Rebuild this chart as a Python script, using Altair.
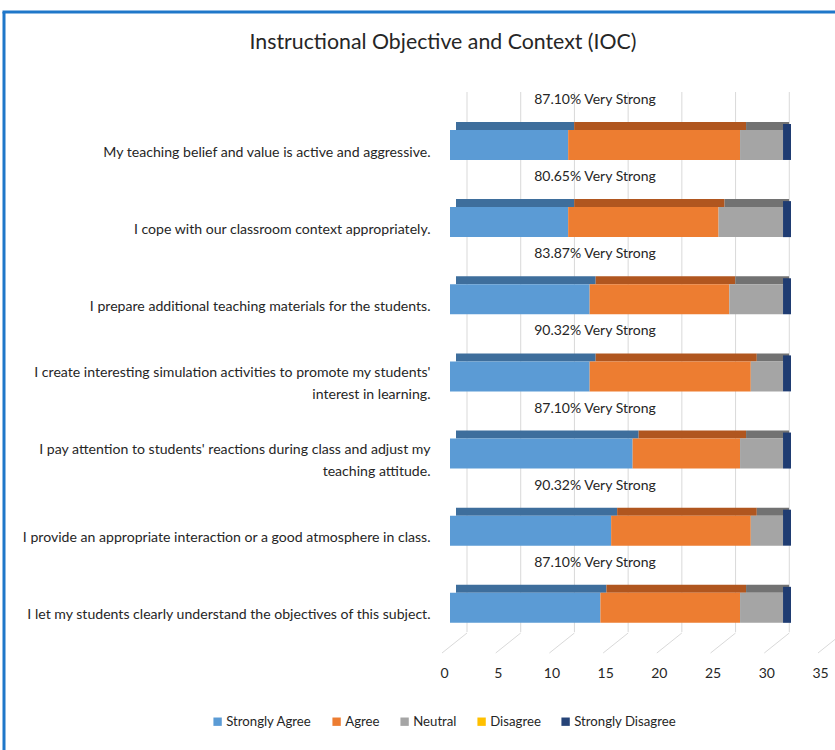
import altair as alt
import pandas as pd

# ---------------- data ----------------
categories = [
    "My teaching belief and value is active and aggressive.",
    "I cope with our classroom context appropriately.",
    "I prepare additional teaching materials for the students.",
    "I create interesting simulation activities to promote my students'\ninterest in learning.",
    "I pay attention to students' reactions during class and adjust my\nteaching attitude.",
    "I provide an appropriate interaction or a good atmosphere in class.",
    "I let my students clearly understand the objectives of this subject.",
]
strongly_agree = [11, 11, 13, 13, 17, 15, 14]
agree = [16, 14, 13, 15, 10, 13, 13]
neutral = [4, 6, 5, 3, 4, 3, 4]
disagree = [0, 0, 0, 0, 0, 0, 0]
strongly_disagree = [0, 0, 0, 0, 0, 0, 0]

series = ["Strongly Agree", "Agree", "Neutral", "Disagree", "Strongly Disagree"]
front_colors = ["#5B9BD5", "#ED7D31", "#A5A5A5", "#FFC000", "#264478"]
top_colors = ["#3E6E9C", "#B0561F", "#727272", "#B38600", "#1A2F55"]
x_ticks = [0, 5, 10, 15, 20, 25, 30, 35]
grid_ticks = [0, 5, 10, 15, 20, 25, 30]
title_text = "Instructional Objective and Context (IOC)"

FONT = "Lato"

# ---------------- tables ----------------
rows = []
totals = []
labels = []
for i, cat in enumerate(categories):
    vals = [strongly_agree[i], agree[i], neutral[i], disagree[i], strongly_disagree[i]]
    start = 0
    for s, v, tc in zip(series, vals, top_colors):
        rows.append({"cat": cat, "series": s, "start": start, "end": start + v, "top": tc})
        start += v
    totals.append({"cat": cat, "total": start})
    pct = (strongly_agree[i] + agree[i]) / start * 100
    labels.append({"cat": cat, "txt": f"{pct:.2f}% Very Strong"})

bars = pd.DataFrame(rows)
tot = pd.DataFrame(totals)
lab = pd.DataFrame(labels)
grid = pd.DataFrame({"v": grid_ticks})
floor = pd.DataFrame({"v": x_ticks})
ttl = pd.DataFrame({"t": [title_text]})

W, H = 376, 540

xscale = alt.Scale(domain=[0, 35], nice=False, zero=True)
yscale = alt.Scale(domain=categories, paddingInner=0, paddingOuter=0)

y_enc = alt.Y(
    "cat:N",
    scale=yscale,
    sort=categories,
    title=None,
    axis=alt.Axis(
        labelExpr="split(datum.label, '\\n')",
        ticks=False,
        domain=False,
        labelPadding=20,
        labelOffset={
            "condition": {"test": "indexof(datum.value, '\\n') >= 0", "value": 11},
            "value": 22,
        },
        labelFont=FONT,
        labelFontSize=14.1,
        labelColor="#262626",
        labelLimit=500,
        labelLineHeight=22,
    ),
)

x_axis = alt.Axis(
    values=x_ticks,
    grid=False,
    ticks=False,
    domain=False,
    labelPadding=34,
    labelOffset=-6,
    labelFlush=False,
    labelFont=FONT,
    labelFontSize=14,
    labelColor="#262626",
    title=None,
)

gridl = alt.Chart(grid).mark_rule(color="#D9D9D9", strokeWidth=1, xOffset=17).encode(
    x=alt.X("v:Q", scale=xscale, axis=x_axis),
    y=alt.value(0),
    y2=alt.value(H),
)

floorl = alt.Chart(floor).mark_rule(color="#D9D9D9", strokeWidth=1, xOffset=-8, x2Offset=17).encode(
    x=alt.X("v:Q", scale=xscale),
    x2="v:Q",
    y=alt.value(H + 21),
    y2=alt.value(H + 1),
)

top = alt.Chart(bars).mark_bar(size=8, yOffset=-4.6, xOffset=6, x2Offset=6).encode(
    x=alt.X("start:Q", scale=xscale),
    x2="end:Q",
    y=y_enc,
    color=alt.Color("top:N", scale=None),
)

front = alt.Chart(bars).mark_bar(size=30, yOffset=14.4).encode(
    x=alt.X("start:Q", scale=xscale),
    x2="end:Q",
    y=y_enc,
    color=alt.Color(
        "series:N",
        scale=alt.Scale(domain=series, range=front_colors),
        sort=series,
        legend=alt.Legend(
            title=None,
            orient="none",
            legendX=-239,
            legendY=623,
            direction="horizontal",
            symbolType="square",
            symbolSize=70,
            symbolStrokeWidth=0,
            labelFont=FONT,
            labelFontSize=13.2,
            labelColor="#262626",
            columnPadding=18,
            labelOffset=2,
        ),
    ),
)

cap = alt.Chart(tot).mark_bar(size=36, yOffset=11.4, x2Offset=8, color="#1F3C72").encode(
    x=alt.X("total:Q", scale=xscale),
    x2="total:Q",
    y=y_enc,
)

pct = alt.Chart(lab).mark_text(
    font=FONT, fontSize=14, color="#262626", align="center", baseline="middle", yOffset=-30.6
).encode(
    x=alt.value(145),
    y=y_enc,
    text="txt:N",
)

title = alt.Chart(ttl).mark_text(
    font=FONT, fontSize=21.3, color="#262626", align="center", baseline="middle"
).encode(
    x=alt.value(-7),
    y=alt.value(-49),
    text="t:N",
)

border_left = alt.Chart(ttl).mark_rule(color="#1F77C9", strokeWidth=3).encode(
    x=alt.value(-446), y=alt.value(-80), y2=alt.value(670)
)
border_top = alt.Chart(ttl).mark_rule(color="#1F77C9", strokeWidth=3).encode(
    x=alt.value(-447.5), x2=alt.value(400), y=alt.value(-80)
)

chart = alt.layer(
    gridl, floorl, top, front, cap, pct, title, border_left, border_top
).properties(
    width=W,
    height=H,
    autosize=alt.AutoSizeParams(type="none"),
    padding={"left": 450, "top": 92, "right": 9, "bottom": 118},
    background="white",
).configure_view(stroke=None)

chart.save("out.html", embed_options={"renderer": "svg", "actions": False})
